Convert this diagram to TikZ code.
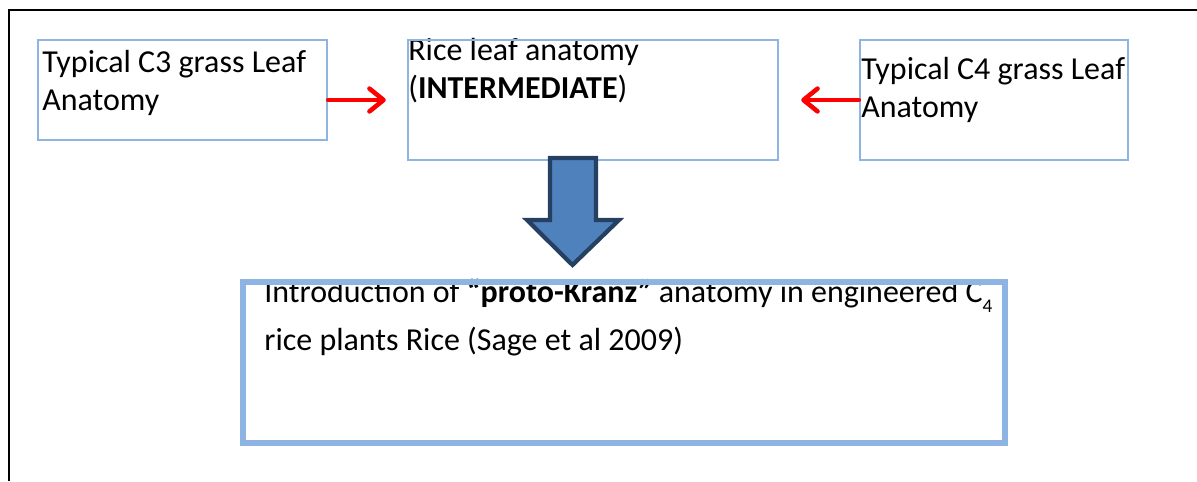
\documentclass[tikz,border=0pt]{standalone}
\usepackage{fontspec}
\setmainfont{Carlito}
\usepackage{tikz}
\usetikzlibrary{arrows.meta,positioning}

\definecolor{boxblue}{RGB}{142,180,227}
\definecolor{bigarrowfill}{RGB}{79,129,189}
\definecolor{bigarrowedge}{RGB}{38,64,97}

\newcommand{\lowsub}[1]{\raisebox{-6pt}{\fontsize{11}{11}\selectfont #1}}

\tikzset{
    leafbox/.style={draw=boxblue, line width=1.4pt, inner sep=0pt},
    leaftext/.style={anchor=base west, inner sep=0pt, align=left,
        font=\fontsize{18.2}{21.5}\selectfont},
    redarrow/.style={draw=red, line width=2.6pt, line cap=round,
        -{Straight Barb[length=8pt, width=13pt, line cap=round, line join=round]}}
}

\begin{document}
\begin{tikzpicture}[x=0.02cm, y=-0.02cm]
    \useasboundingbox (0,0) rectangle (1197,481);

    % outer frame
    \draw[line width=1.2pt] (9,481) -- (9,10) -- (1197,10);

    % texts (anchored at the last line's baseline)
    \node[leaftext] (c3text) at (42,110) {Typical C3 grass Leaf\\Anatomy};
    \node[leaftext] (ricetext) at (408,98) {Rice leaf anatomy\\(\textbf{INTERMEDIATE})};
    \node[leaftext] (c4text) at (861,117) {Typical C4 grass Leaf\\Anatomy};
    \node[leaftext, font=\fontsize{18.2}{27.2}\selectfont] (kranztext) at (264,350)
        {Introduction of \textbf{``proto-Kranz''} anatomy in engineered C\lowsub{4}\\rice plants Rice (Sage et al 2009)};

    % boxes
    \node[leafbox, minimum width=5.78cm, minimum height=2cm] (c3) at (182.5,90) {};
    \node[leafbox, minimum width=7.4cm, minimum height=2.4cm] (rice) at (593,100) {};
    \node[leafbox, minimum width=5.36cm, minimum height=2.4cm] (c4) at (994,100) {};

    % side arrows
    \draw[redarrow, shorten >=0.42cm] (rice.west -| c3.east) -- (rice.west);
    \draw[redarrow, shorten >=0.44cm] (c4.west) -- (rice.east);

    % block arrow down
    \draw[
        line width=2.4pt,
        line join=miter,
        draw=bigarrowedge,
        fill=bigarrowfill
    ] (550,158) -- (550,220) -- (527,220) -- (572.5,265) -- (619,220) -- (596,220) -- (596,158) -- cycle;

    \node[leafbox, line width=3pt, minimum width=15.24cm, minimum height=3.22cm] (kranz) at (624,362.5) {};

\end{tikzpicture}
\end{document}
